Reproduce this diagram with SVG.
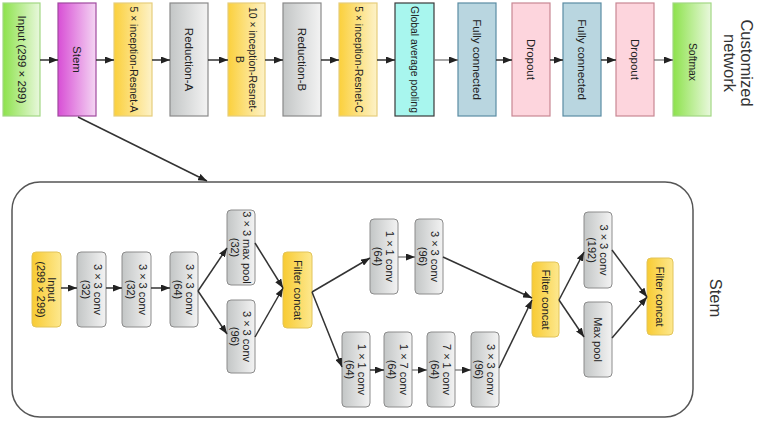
<svg xmlns="http://www.w3.org/2000/svg" width="760" height="421" viewBox="0 0 760 421">
<defs>
<linearGradient id="gGreen" x1="0" y1="0" x2="1" y2="0"><stop offset="0" stop-color="#8de24c"/><stop offset="1" stop-color="#e9f8dd"/></linearGradient>
<linearGradient id="gMag" x1="0" y1="0" x2="1" y2="0"><stop offset="0" stop-color="#d84fd5"/><stop offset="1" stop-color="#f4d6f3"/></linearGradient>
<linearGradient id="gYel" x1="0" y1="0" x2="1" y2="0"><stop offset="0" stop-color="#fbd03c"/><stop offset="1" stop-color="#fdf2c8"/></linearGradient>
<linearGradient id="gGrey" x1="0" y1="0" x2="1" y2="0"><stop offset="0" stop-color="#c3c6c6"/><stop offset="1" stop-color="#f3f3f3"/></linearGradient>
<linearGradient id="gSYel" x1="0" y1="0" x2="1" y2="0"><stop offset="0" stop-color="#f8cb33"/><stop offset="1" stop-color="#fde88e"/></linearGradient>
<marker id="ah" markerWidth="9" markerHeight="7" refX="9" refY="3.5" orient="auto" markerUnits="userSpaceOnUse"><path d="M0,0 L9,3.5 L0,7 z" fill="#222"/></marker>
<style>
text{font-family:"Liberation Sans",Arial,sans-serif;fill:#222;text-anchor:middle;dominant-baseline:central}
.t{font-size:11.5px}
.ts{font-size:10.4px}
.s{font-size:11px}
.big{font-size:16.5px;fill:#333}
.top{stroke-width:1.2}
.green{fill:url(#gGreen);stroke:#a2d884}
.mag{fill:url(#gMag);stroke:#a04a9f}
.yel{fill:url(#gYel);stroke:#e6cd7c}
.grey{fill:url(#gGrey);stroke:#8a8a8a}
.gap{fill:#a8f6ee;stroke:#3a3a3a}
.fc{fill:#b9d6e0;stroke:#5a8ca3}
.drop{fill:#fdd5dd;stroke:#c88793}
.sg{fill:url(#gGrey);stroke:#8c8c8c;stroke-width:1}
.sy{fill:url(#gSYel);stroke:#e2c45a;stroke-width:1}
.c{stroke:#333;stroke-width:1.5;fill:none;marker-end:url(#ah)}
.cl{stroke:#777;stroke-width:1.3;fill:none;marker-end:url(#ah)}
</style>
</defs>

<!-- top row -->
<g id="top-input"><rect class="top green" x="3" y="3" width="37" height="113"/><text class="t" transform="translate(21.5,59.5) rotate(90)">Input  (299 × 299)</text></g>
<g id="top-stem"><rect class="top mag" x="58" y="3" width="38" height="113"/><text class="t" transform="translate(77,59.5) rotate(90)">Stem</text></g>
<g id="top-a"><rect class="top yel" x="114" y="3" width="38" height="113"/><text class="ts" transform="translate(133,59.5) rotate(90)">5 × inception-Resnet-A</text></g>
<g id="top-reda"><rect class="top grey" x="170" y="3" width="38" height="113"/><text class="t" transform="translate(189,59.5) rotate(90)">Reduction-A</text></g>
<g id="top-b"><rect class="top yel" x="228" y="3" width="37" height="113"/><text class="ts" transform="translate(246.5,59.5) rotate(90)"><tspan x="0" y="-6.5">10 × inception-Resnet-</tspan><tspan x="0" y="6.5">B</tspan></text></g>
<g id="top-redb"><rect class="top grey" x="283" y="3" width="38" height="113"/><text class="t" transform="translate(302,59.5) rotate(90)">Reduction-B</text></g>
<g id="top-c"><rect class="top yel" x="339" y="3" width="38" height="113"/><text class="ts" transform="translate(358,59.5) rotate(90)">5 × inception-Resnet-C</text></g>
<g id="top-gap"><rect class="top gap" x="395" y="3" width="39" height="113"/><text class="ts" transform="translate(414.5,59.5) rotate(90)">Global average pooling</text></g>
<g id="top-fc1"><rect class="top fc" x="458" y="3" width="38" height="113"/><text class="t" transform="translate(477,59.5) rotate(90)">Fully connected</text></g>
<g id="top-drop1"><rect class="top drop" x="512" y="3" width="38" height="113"/><text class="t" transform="translate(531,59.5) rotate(90)">Dropout</text></g>
<g id="top-fc2"><rect class="top fc" x="563" y="3" width="38" height="113"/><text class="t" transform="translate(582,59.5) rotate(90)">Fully connected</text></g>
<g id="top-drop2"><rect class="top drop" x="616" y="3" width="38" height="113"/><text class="t" transform="translate(635,59.5) rotate(90)">Dropout</text></g>
<g id="top-softmax"><rect class="top green" x="673" y="3" width="38" height="113"/><text class="ts" transform="translate(692,62) rotate(90)">Softmax</text></g>
<g id="label-customized"><text class="big" transform="translate(738.5,63) rotate(90)"><tspan x="0" y="-8.5">Customized</tspan><tspan x="0" y="8.5">network</tspan></text></g>

<!-- stem container -->
<g id="stem-container"><rect x="12" y="182" width="681" height="235" rx="28" fill="none" stroke="#555" stroke-width="1.5"/><text class="big" transform="translate(716,298) rotate(90)">Stem</text></g>

<!-- stem nodes -->
<g id="s-input"><rect class="sy" x="32" y="252" width="29" height="75" rx="4"/><text class="s" transform="translate(46.5,289.5) rotate(90)"><tspan x="0" y="-5.5">Input</tspan><tspan x="0" y="6">(299 × 299)</tspan></text></g>
<g id="s-c1"><rect class="sg" x="77" y="252" width="29" height="75" rx="4"/><text class="s" transform="translate(91.5,289.5) rotate(90)"><tspan x="0" y="-6">3 × 3 conv</tspan><tspan x="0" y="6">(32)</tspan></text></g>
<g id="s-c2"><rect class="sg" x="122" y="252" width="29" height="75" rx="4"/><text class="s" transform="translate(136.5,289.5) rotate(90)"><tspan x="0" y="-6">3 × 3 conv</tspan><tspan x="0" y="6">(32)</tspan></text></g>
<g id="s-c3"><rect class="sg" x="170" y="252" width="28" height="75" rx="4"/><text class="s" transform="translate(184,289.5) rotate(90)"><tspan x="0" y="-6">3 × 3 conv</tspan><tspan x="0" y="6">(64)</tspan></text></g>
<g id="s-mp1"><rect class="sg" x="227" y="210" width="28" height="75" rx="4"/><text class="s" transform="translate(241,247.5) rotate(90)"><tspan x="0" y="-6">3 × 3 max pool</tspan><tspan x="0" y="6">(32)</tspan></text></g>
<g id="s-c96a"><rect class="sg" x="227" y="300" width="28" height="73" rx="4"/><text class="s" transform="translate(241,336.5) rotate(90)"><tspan x="0" y="-6">3 × 3 conv</tspan><tspan x="0" y="6">(96)</tspan></text></g>
<g id="s-fc1"><rect class="sy" x="283" y="252" width="29" height="76" rx="4"/><text class="s" transform="translate(297.5,290) rotate(90)">Filter concat</text></g>
<g id="s-t1"><rect class="sg" x="370" y="219" width="28" height="75" rx="4"/><text class="s" transform="translate(384,256.5) rotate(90)"><tspan x="0" y="-6">1 × 1 conv</tspan><tspan x="0" y="6">(64)</tspan></text></g>
<g id="s-t2"><rect class="sg" x="415" y="219" width="28" height="75" rx="4"/><text class="s" transform="translate(429,256.5) rotate(90)"><tspan x="0" y="-6">3 × 3 conv</tspan><tspan x="0" y="6">(96)</tspan></text></g>
<g id="s-b1"><rect class="sg" x="342" y="332" width="28" height="75" rx="4"/><text class="s" transform="translate(356,369.5) rotate(90)"><tspan x="0" y="-6">1 × 1 conv</tspan><tspan x="0" y="6">(64)</tspan></text></g>
<g id="s-b2"><rect class="sg" x="384" y="332" width="28" height="75" rx="4"/><text class="s" transform="translate(398,369.5) rotate(90)"><tspan x="0" y="-6">1 × 7 conv</tspan><tspan x="0" y="6">(64)</tspan></text></g>
<g id="s-b3"><rect class="sg" x="427" y="332" width="28" height="75" rx="4"/><text class="s" transform="translate(441,369.5) rotate(90)"><tspan x="0" y="-6">7 × 1 conv</tspan><tspan x="0" y="6">(64)</tspan></text></g>
<g id="s-b4"><rect class="sg" x="471" y="332" width="28" height="75" rx="4"/><text class="s" transform="translate(485,369.5) rotate(90)"><tspan x="0" y="-6">3 × 3 conv</tspan><tspan x="0" y="6">(96)</tspan></text></g>
<g id="s-fc2"><rect class="sy" x="532" y="262" width="27" height="75" rx="4"/><text class="s" transform="translate(545.5,299.5) rotate(90)">Filter concat</text></g>
<g id="s-c192"><rect class="sg" x="584" y="212" width="28" height="76" rx="4"/><text class="s" transform="translate(598,250) rotate(90)"><tspan x="0" y="-6">3 × 3 conv</tspan><tspan x="0" y="6">(192)</tspan></text></g>
<g id="s-mp2"><rect class="sg" x="584" y="302" width="28" height="75" rx="4"/><text class="s" transform="translate(598,339.5) rotate(90)">Max pool</text></g>
<g id="s-fc3"><rect class="sy" x="647" y="258" width="26" height="77" rx="4"/><text class="s" transform="translate(660,296.5) rotate(90)">Filter concat</text></g>

<!-- connectors -->
<g id="connectors">
<path class="c" d="M40,60 H58"/>
<path class="c" d="M96,60 H114"/>
<path class="c" d="M152,60 H170"/>
<path class="c" d="M208,60 H228"/>
<path class="c" d="M265,60 H283"/>
<path class="c" d="M321,60 H339"/>
<path class="c" d="M377,60 H395"/>
<path class="cl" d="M434,60 H458"/>
<path class="c" d="M496,60 H512"/>
<path class="c" d="M550,60 H563"/>
<path class="c" d="M601,60 H616"/>
<path class="cl" d="M654,60 H673"/>
<path class="c" d="M78,117 L207,181"/>

<path class="c" d="M61,288 H77"/>
<path class="c" d="M106,288 H122"/>
<path class="c" d="M151,288 H170"/>
<path class="c" d="M198,291 L227,248"/>
<path class="c" d="M198,291 L227,334"/>
<path class="c" d="M255,243 L283,288"/>
<path class="c" d="M255,337 L283,288"/>
<path class="c" d="M312,292 L370,258"/>
<path class="c" d="M312,292 L342,367"/>
<path class="cl" d="M398,257 H415"/>
<path class="c" d="M443,257 L532,298"/>
<path class="c" d="M370,370 H384"/>
<path class="cl" d="M412,370 H427"/>
<path class="cl" d="M455,370 H471"/>
<path class="c" d="M499,368 L532,300"/>
<path class="c" d="M559,300 L584,252"/>
<path class="c" d="M559,300 L584,337"/>
<path class="c" d="M612,250 L647,297"/>
<path class="c" d="M612,338 L647,297"/>
</g>
</svg>
